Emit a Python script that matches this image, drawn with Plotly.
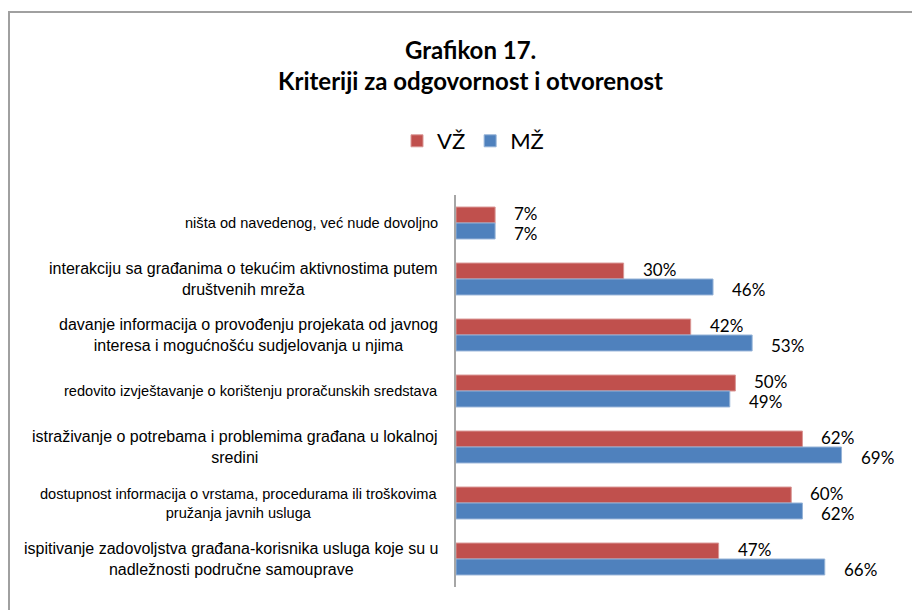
import plotly.graph_objects as go

categories = [
    "ništa od navedenog, već nude dovoljno",
    "interakciju sa građanima o tekućim aktivnostima putem<br>društvenih mreža",
    "davanje informacija o provođenju projekata od javnog<br>interesa i mogućnošću sudjelovanja u njima",
    "redovito izvještavanje o korištenju proračunskih sredstava",
    "istraživanje o potrebama i problemima građana u lokalnoj<br>sredini",
    "dostupnost informacija o vrstama, procedurama ili troškovima<br>pružanja javnih usluga",
    "ispitivanje zadovoljstva građana-korisnika usluga koje su u<br>nadležnosti područne samouprave",
]
vz = [7, 30, 42, 50, 62, 60, 47]
mz = [7, 46, 53, 49, 69, 62, 66]
series_names = ["VŽ", "MŽ"]
title_lines = ["Grafikon 17.", "Kriteriji za odgovornost i otvorenost"]

# style: labels that the original renders in a smaller face
COMPACT_LABELS = {0, 3, 5}

RED = "#C0504D"
BLUE = "#4F81BD"

OFF = 8  # page body margin
W, H = 920, 610
L, T = 456 - OFF, 195 - OFF
pw, ph = 447, 392
R = W - L - pw
B = H - T - ph

def px(x):
    return (x - OFF - L) / pw

def py(y):
    return (T + ph - (y - OFF)) / ph

fig = go.Figure()
annotations = []
series = [(series_names[0], vz, RED, "#D99694", 10), (series_names[1], mz, BLUE, "#95B3D7", -10)]
for name, vals, col, edge, ys in series:
    fig.add_trace(go.Bar(
        y=categories, x=vals, name=name, orientation="h",
        marker=dict(color=col, line=dict(color=edge, width=1)),
    ))
    for c, v in zip(categories, vals):
        annotations.append(dict(
            text=f"{v}%", x=v, y=c, xref="x", yref="y", showarrow=False,
            xanchor="left", yanchor="middle", xshift=17, yshift=ys,
            font=dict(family="Lato", size=17, color="#000000"),
        ))

for i, line in enumerate(title_lines):
    annotations.append(dict(
        text=f"<b>{line}</b>", x=px(470), y=py([50, 80][i]), xref="paper", yref="paper",
        showarrow=False, xanchor="center", yanchor="middle",
        font=dict(family="Lato", size=24, color="#000000"),
    ))
for i, c in enumerate(categories):
    size = 14.6 if i in COMPACT_LABELS else 16
    annotations.append(dict(
        text=c, x=px(440), y=c, xref="paper", yref="y", showarrow=False,
        xanchor="right", yanchor="middle", align="center",
        font=dict(family="Liberation Sans", size=size, color="#000000"),
    ))

fig.update_layout(
    width=W, height=H,
    margin=dict(l=L, r=R, t=T, b=B, autoexpand=False),
    paper_bgcolor="white", plot_bgcolor="white",
    barmode="group", bargap=0.43, bargroupgap=0,
    showlegend=True,
    legend=dict(orientation="h", x=px(473), y=py(141), xanchor="center", yanchor="middle",
                font=dict(family="Lato", size=22, color="#000000"),
                itemwidth=30, traceorder="normal"),
    xaxis=dict(range=[0, 80], visible=False, fixedrange=True),
    yaxis=dict(autorange="reversed", showticklabels=False, showline=True,
               linecolor="#A6A6A6", linewidth=2, ticks="", showgrid=False, zeroline=False),
    annotations=annotations,
    shapes=[dict(type="rect", xref="paper", yref="paper",
                 x0=px(9), x1=px(940), y0=py(640), y1=py(12),
                 line=dict(color="#A0A0A0", width=2), fillcolor="rgba(0,0,0,0)", layer="below")],
)

fig.write_html("out.html")
